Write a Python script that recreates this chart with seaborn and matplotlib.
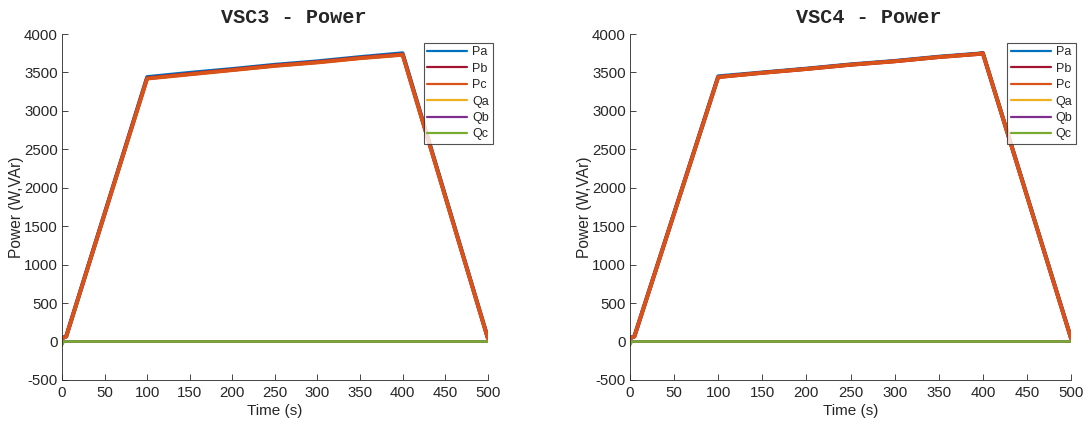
import numpy as np
import pandas as pd
import matplotlib
matplotlib.use("Agg")
import matplotlib.pyplot as plt
import seaborn as sns

# Breakpoints of the power profiles (time in s)
time_s = [0, 2, 5, 100, 150, 200, 250, 300, 350, 395, 400, 500]

# VSC3 active power per phase (W)
vsc3_pa = [50, 55, 70, 3440, 3495, 3545, 3600, 3645, 3700, 3745, 3750, 50]
vsc3_pb = [40, 50, 65, 3425, 3480, 3535, 3590, 3635, 3690, 3730, 3735, 45]
vsc3_pc = [40, 50, 65, 3420, 3475, 3530, 3585, 3630, 3685, 3725, 3730, 45]
# VSC3 reactive power per phase (VAr)
vsc3_qa = [-30, 0, 0, 0, 0, 0, 0, 0, 0, 0, 0, 0]
vsc3_qb = [-40, 0, 0, 0, 0, 0, 0, 0, 0, 0, 0, 0]
vsc3_qc = [-50, 0, 0, 0, 0, 0, 0, 0, 0, 0, 0, 0]

# VSC4 active power per phase (W)
vsc4_pa = [50, 55, 70, 3450, 3500, 3550, 3605, 3650, 3705, 3745, 3755, 45]
vsc4_pb = [40, 50, 65, 3440, 3495, 3545, 3600, 3645, 3700, 3740, 3750, 40]
vsc4_pc = [40, 50, 65, 3440, 3495, 3545, 3600, 3645, 3700, 3740, 3750, 40]
# VSC4 reactive power per phase (VAr)
vsc4_qa = [-30, 0, 0, 0, 0, 0, 0, 0, 0, 0, 0, 0]
vsc4_qb = [-40, 0, 0, 0, 0, 0, 0, 0, 0, 0, 0, 0]
vsc4_qc = [-50, 0, 0, 0, 0, 0, 0, 0, 0, 0, 0, 0]

series_names = ["Pa", "Pb", "Pc", "Qa", "Qb", "Qc"]
series_colors = ["#0072BD", "#A2142F", "#D95319", "#EDB120", "#7E2F8E", "#77AC30"]
panel_titles = ["VSC3 - Power", "VSC4 - Power"]
x_ticks = [0, 50, 100, 150, 200, 250, 300, 350, 400, 450, 500]
y_ticks = [-500, 0, 500, 1000, 1500, 2000, 2500, 3000, 3500, 4000]


def long_frame(columns):
    rows = []
    for name, vals in zip(series_names, columns):
        for t, v in zip(time_s, vals):
            rows.append({"Time": t, "Power": v, "Series": name})
    return pd.DataFrame(rows)


frames = [
    long_frame([vsc3_pa, vsc3_pb, vsc3_pc, vsc3_qa, vsc3_qb, vsc3_qc]),
    long_frame([vsc4_pa, vsc4_pb, vsc4_pc, vsc4_qa, vsc4_qb, vsc4_qc]),
]

sns.set_theme(style="white")
plt.rcParams["font.family"] = ["Liberation Sans", "DejaVu Sans"]
plt.rcParams["axes.unicode_minus"] = False

fig = plt.figure(figsize=(10.89, 4.25), dpi=100)
axes = [
    fig.add_axes([0.0569, 0.106, 0.391, 0.814]),
    fig.add_axes([0.5785, 0.106, 0.405, 0.814]),
]
title_x = [0.545, 0.541]

palette = dict(zip(series_names, series_colors))
line_widths = {"Pa": 2.8, "Pb": 2.8, "Pc": 2.8, "Qa": 1.8, "Qb": 1.8, "Qc": 1.8}

for ax, df, title, tx in zip(axes, frames, panel_titles, title_x):
    sns.lineplot(data=df, x="Time", y="Power", hue="Series", hue_order=series_names,
                 palette=palette, linewidth=1.6, ax=ax, estimator=None, sort=False)
    for line, name in zip(ax.get_lines(), series_names):
        line.set_linewidth(line_widths[name])
    ax.set_xlim(0, 500)
    ax.set_ylim(-500, 4000)
    ax.set_xticks(x_ticks)
    ax.set_yticks(y_ticks)
    ax.tick_params(axis="both", direction="in", labelsize=10.8, colors="#262626",
                   length=4, width=0.6, bottom=True, left=True)
    ax.tick_params(axis="x", pad=4)
    ax.tick_params(axis="y", pad=3)
    for side in ["top", "right"]:
        ax.spines[side].set_visible(False)
    for side in ["left", "bottom"]:
        ax.spines[side].set_color("#262626")
        ax.spines[side].set_linewidth(0.6)
    ax.set_xlabel("Time (s)", fontsize=11, color="#262626", labelpad=3)
    ax.set_ylabel("Power (W,VAr)", fontsize=11.2, color="#262626", labelpad=0)
    ax.set_title(title, fontsize=14.5, fontweight="bold", x=tx,
                 family=["Liberation Mono", "DejaVu Sans Mono"], pad=8)
    leg = ax.legend(loc="upper right", bbox_to_anchor=(1.012, 0.975), fontsize=9,
                    frameon=True, fancybox=False, borderpad=0.3, labelspacing=0.35,
                    handlelength=3.2, handletextpad=0.4, borderaxespad=0)
    leg.get_frame().set_edgecolor("#262626")
    leg.get_frame().set_linewidth(0.8)
    for h in leg.get_lines():
        h.set_linewidth(1.6)

fig.savefig("out.png", dpi=100, facecolor="white")
